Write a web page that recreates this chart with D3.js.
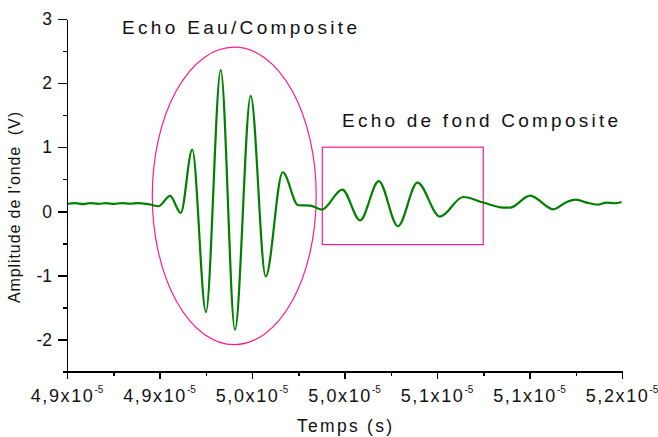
<!DOCTYPE html>
<html>
<head>
<meta charset="utf-8">
<script src="https://cdn.jsdelivr.net/npm/d3@7"></script>
<style>
  body { margin: 0; background: #fff; }
  text { font-family: "Liberation Sans", Arial, sans-serif; fill: #111; }
  .axis path, .axis line { stroke: #000; stroke-width: 1.5; shape-rendering: crispEdges; }
</style>
</head>
<body>
<div id="viz"></div>
<script>
// time in units of 1e-5 s
var time = [4.9005, 4.9043, 4.9086, 4.9124, 4.9168, 4.9211, 4.9254, 4.9297, 4.9341, 4.9384,
  4.9427, 4.9449, 4.9494, 4.9557, 4.9615, 4.9677, 4.9751, 4.9831, 4.9908, 4.9993,
  5.0074, 5.0166, 5.0250, 5.0314, 5.0377, 5.0488, 5.0584, 5.0685, 5.0789, 5.0894,
  5.1016, 5.1142, 5.1250, 5.1358, 5.1395, 5.1503, 5.1629, 5.1701, 5.1751, 5.1809,
  5.1872, 5.1917, 5.1962, 5.1998];
// amplitude in V
var amplitude = [0.117, 0.128, 0.113, 0.128, 0.116, 0.127, 0.114, 0.128, 0.117, 0.127,
  0.116, 0.105, 0.078, 0.239, -0.027, 0.964, -1.573, 2.203, -1.848, 1.802,
  -1.016, 0.609, 0.094, 0.089, 0.027, 0.339, -0.141, 0.469, -0.234, 0.448,
  -0.083, 0.223, 0.136, 0.058, 0.058, 0.245, 0.031, 0.145, 0.183, 0.136,
  0.105, 0.136, 0.125, 0.145];

var x_ticks = [4.90, 4.95, 5.00, 5.05, 5.10, 5.15, 5.20];
var x_labels = ["4,9x10", "4,9x10", "5,0x10", "5,0x10", "5,1x10", "5,1x10", "5,2x10"];
var x_minor = [4.925, 4.975, 5.025, 5.075, 5.125, 5.175];
var y_ticks = [-2, -1, 0, 1, 2, 3];
var y_minor = [-2.5, -1.5, -0.5, 0.5, 1.5, 2.5];

// annotations (data units)
var ellipse_c = [4.9904, 0.24], ellipse_r = [0.0443, 2.32];
var rect_t = [5.0380, 5.1250], rect_v = [-0.52, 1.0];

var width = 658, height = 437;
var svg = d3.select("#viz").append("svg").attr("width", width).attr("height", height);
svg.append("rect").attr("width", width).attr("height", height).attr("fill", "#fff");

var x = d3.scaleLinear().domain([4.90, 5.20]).range([67, 622]);
var y = d3.scaleLinear().domain([-2.5, 3]).range([371.5, 19]);

var pink = "#ff1a8c";

// annotations
svg.append("ellipse")
    .attr("cx", x(ellipse_c[0]))
    .attr("cy", y(ellipse_c[1]))
    .attr("rx", x(ellipse_c[0] + ellipse_r[0]) - x(ellipse_c[0]))
    .attr("ry", y(ellipse_c[1]) - y(ellipse_c[1] + ellipse_r[1]))
    .attr("fill", "none")
    .attr("stroke", pink)
    .attr("stroke-width", 1.2);

svg.append("rect")
    .attr("x", x(rect_t[0]))
    .attr("y", y(rect_v[1]))
    .attr("width", x(rect_t[1]) - x(rect_t[0]))
    .attr("height", y(rect_v[0]) - y(rect_v[1]))
    .attr("fill", "none")
    .attr("stroke", pink)
    .attr("stroke-width", 1.2);

// signal
var pts = time.map(function(t, i){ return [t, amplitude[i]]; });
var line = d3.line()
    .x(function(d){ return x(d[0]); })
    .y(function(d){ return y(d[1]); })
    .curve(d3.curveMonotoneX);

svg.append("path")
    .datum(pts)
    .attr("d", line)
    .attr("fill", "none")
    .attr("stroke", "#008000")
    .attr("stroke-width", 2.2)
    .attr("stroke-linejoin", "round");

// x axis
var gx = svg.append("g").attr("class", "axis").attr("transform", "translate(0," + 371.5 + ")");
gx.call(d3.axisBottom(x).tickValues(x_ticks).tickSizeInner(7).tickSizeOuter(0).tickFormat(""));
gx.append("g").call(d3.axisBottom(x).tickValues(x_minor).tickSize(4).tickFormat(""))
  .select(".domain").remove();

x_ticks.forEach(function(v, i){
  var t = svg.append("text")
      .attr("x", x(v))
      .attr("y", 402)
      .attr("text-anchor", "middle")
      .style("font-size", "18px")
      .style("letter-spacing", "1.6px")
      .text(x_labels[i]);
  t.append("tspan")
      .attr("dy", -9)
      .style("font-size", "10px")
      .style("letter-spacing", "0px")
      .text("-5");
});

// y axis
var gy = svg.append("g").attr("class", "axis").attr("transform", "translate(" + 67 + ",0)");
gy.call(d3.axisLeft(y).tickValues(y_ticks).tickSizeInner(9).tickSizeOuter(0).tickFormat(""));
gy.append("g").call(d3.axisLeft(y).tickValues(y_minor).tickSize(4).tickFormat(""))
  .select(".domain").remove();

y_ticks.forEach(function(v){
  svg.append("text")
      .attr("x", 52)
      .attr("y", y(v))
      .attr("dy", "0.36em")
      .attr("text-anchor", "end")
      .style("font-size", "17.5px")
      .text(v);
});

// titles
svg.append("text")
    .attr("transform", "translate(20," + 207.5 + ") rotate(-90)")
    .attr("text-anchor", "middle")
    .attr("textLength", 191)
    .attr("lengthAdjust", "spacing")
    .style("font-size", "16px")
    .style("white-space", "pre")
    .text("Amplitude de l'onde  (V)");

svg.append("text")
    .attr("x", 297)
    .attr("y", 431.5)
    .attr("textLength", 95)
    .attr("lengthAdjust", "spacing")
    .style("font-size", "17.5px")
    .text("Temps (s)");

svg.append("text")
    .attr("x", 122)
    .attr("y", 34)
    .attr("textLength", 235)
    .attr("lengthAdjust", "spacing")
    .style("font-size", "19px")
    .text("Echo Eau/Composite");

svg.append("text")
    .attr("x", 342)
    .attr("y", 127)
    .attr("textLength", 276)
    .attr("lengthAdjust", "spacing")
    .style("font-size", "19px")
    .text("Echo de fond Composite");
</script>
</body>
</html>
